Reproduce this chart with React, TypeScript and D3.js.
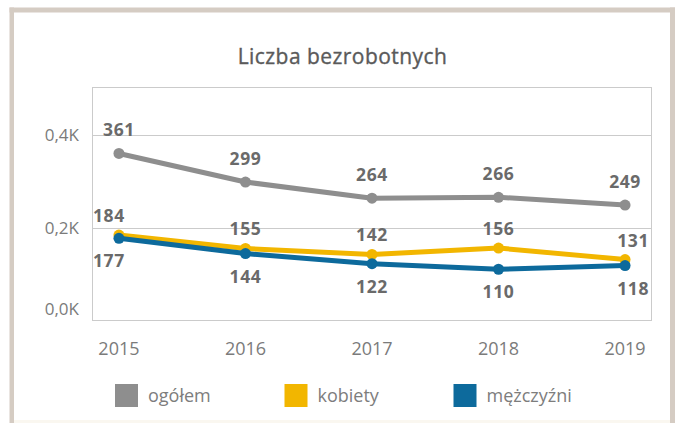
import React from "react";
import * as d3 from "d3";

const years = ["2015", "2016", "2017", "2018", "2019"];
const ogolem = [361, 299, 264, 266, 249];
const kobiety = [184, 155, 142, 156, 131];
const mezczyzni = [177, 144, 122, 110, 118];
const seriesNames = ["ogółem", "kobiety", "mężczyźni"];
const seriesColors = ["#8e8e8e", "#f2b600", "#0d6a9c"];
const yTicks = [0, 200, 400];
const title = "Liczba bezrobotnych";

const W = 677;
const H = 423;
const plot = { left: 92, right: 652, top: 87, bottom: 320 };
const FONT = "'Open Sans', 'DejaVu Sans', sans-serif";

export default function App() {
  const x = d3
    .scalePoint<string>()
    .domain(years)
    .range([plot.left, plot.right])
    .padding(0.213);
  const y = d3.scaleLinear().domain([0, 505]).range([plot.bottom, plot.top]);

  const series = [ogolem, kobiety, mezczyzni];
  const line = d3
    .line<number>()
    .x((_, i) => x(years[i]) as number)
    .y((d) => y(d));

  const fmt = (v: number) => (v / 1000).toFixed(1).replace(".", ",") + "K";

  // label placement rules: gray above, yellow above, blue below
  const labelOffset = [-17.5, -13, 29];

  const legendX = [115, 284.5, 453.5];

  return (
    <svg
      width={W}
      height={H}
      style={{ position: "absolute", left: 0, top: 0, background: "#fff" }}
      fontFamily={FONT}
    >
      {/* outer frame */}
      <rect x={0} y={0} width={W} height={H} fill="#fff" />
      <rect x={9.5} y={7.5} width={665.5} height={5} fill="#d5ccc3" />
      <rect x={9.5} y={7.5} width={4.5} height={H} fill="#d5ccc3" />
      <rect x={670} y={7.5} width={5} height={H} fill="#d5ccc3" />
      <rect x={14} y={420} width={656} height={3} fill="#faf7f0" />

      {/* title */}
      <text
        x={342.5}
        y={63.5}
        textAnchor="middle"
        fontSize={21}
        fill="#5a5a5a"
        letterSpacing={0.45}
        stroke="#5a5a5a"
        strokeWidth={0.35}
      >
        {title}
      </text>

      {/* plot box and gridlines */}
      <rect
        x={plot.left + 0.5}
        y={plot.top + 0.5}
        width={plot.right - plot.left - 1}
        height={plot.bottom - plot.top}
        fill="none"
        stroke="#cbcbcb"
        strokeWidth={1}
      />
      {yTicks
        .filter((t) => t > 0)
        .map((t) => (
          <line
            key={t}
            x1={plot.left}
            x2={plot.right}
            y1={Math.round(y(t)) + 0.5}
            y2={Math.round(y(t)) + 0.5}
            stroke="#cbcbcb"
            strokeWidth={1}
          />
        ))}

      {/* y axis labels */}
      {yTicks.map((t) => (
        <text
          key={t}
          x={79}
          y={Math.min(y(t), plot.bottom - 11) + 6}
          textAnchor="end"
          fontSize={17}
          fill="#7b7b7b"
        >
          {fmt(t)}
        </text>
      ))}

      {/* x axis labels */}
      {years.map((yr) => (
        <text
          key={yr}
          x={x(yr) as number}
          y={354.5}
          textAnchor="middle"
          fontSize={18}
          fill="#7b7b7b"
        >
          {yr}
        </text>
      ))}

      {/* lines */}
      {series.map((s, si) => (
        <g key={si}>
          <path
            d={line(s) as string}
            fill="none"
            stroke={seriesColors[si]}
            strokeWidth={5}
            strokeLinejoin="round"
            strokeLinecap="round"
          />
          {s.map((v, i) => (
            <circle
              key={i}
              cx={x(years[i]) as number}
              cy={y(v)}
              r={5.5}
              fill={seriesColors[si]}
            />
          ))}
        </g>
      ))}

      {/* data labels */}
      {series.map((s, si) =>
        s.map((v, i) => {
          const px = x(years[i]) as number;
          let anchor: "middle" | "start" | "end" = "middle";
          let lx = px;
          if (si > 0 && i === 0) {
            anchor = "start";
            lx = plot.left + 1;
          } else if (si > 0 && i === s.length - 1) {
            anchor = "end";
            lx = plot.right - 3;
          }
          return (
            <text
              key={`${si}-${i}`}
              x={lx}
              y={y(v) + labelOffset[si]}
              textAnchor={anchor}
              fontSize={17.5}
              fontWeight={700}
              fill="#6a6a6a"
              letterSpacing={0.6}
            >
              {v}
            </text>
          );
        })
      )}

      {/* legend */}
      {seriesNames.map((n, i) => (
        <g key={n}>
          <rect
            x={legendX[i]}
            y={384}
            width={23}
            height={23}
            fill={seriesColors[i]}
          />
          <text
            x={legendX[i] + 33}
            y={401.5}
            fontSize={18}
            fill="#7d7d7d"
          >
            {n}
          </text>
        </g>
      ))}
    </svg>
  );
}
